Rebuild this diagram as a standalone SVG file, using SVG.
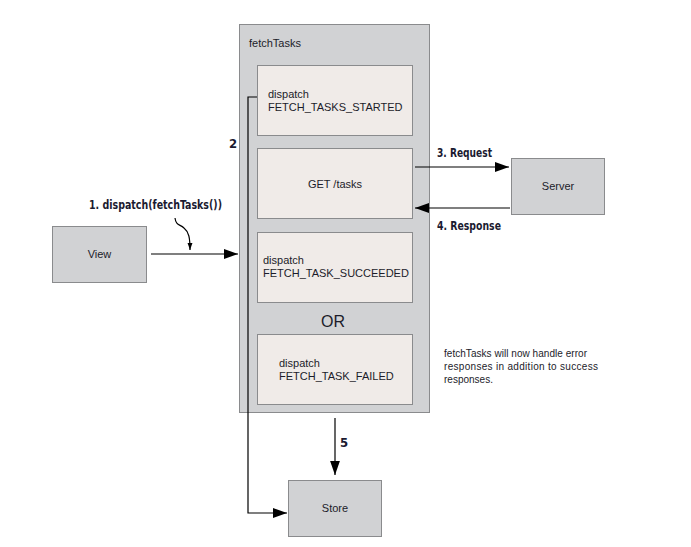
<svg xmlns="http://www.w3.org/2000/svg" width="691" height="547" viewBox="0 0 691 547">
  <style>
    .box { fill: #d1d2d4; stroke: #8a8b8d; stroke-width: 1; }
    .step { fill: #f0ebe8; stroke: #8a8b8d; stroke-width: 1; }
    .t { font-family: "Liberation Sans", Arial, sans-serif; font-size: 11px; fill: #1c1c2a; }
    .lbl { font-family: "DejaVu Sans Condensed", "Liberation Sans Narrow", sans-serif; font-weight: bold; font-size: 13px; fill: #1a1a30; }
    .ln { fill: none; stroke: #000; stroke-width: 1.2; }
  </style>
  <defs>
    <marker id="ah" viewBox="0 0 10 10" refX="10" refY="5" markerWidth="7" markerHeight="7" markerUnits="userSpaceOnUse" orient="auto">
      <path d="M0,1.5 L10,5 L0,8.5 Z" fill="#000"/>
    </marker>
    <marker id="ahl" viewBox="0 0 10 10" refX="10" refY="5" markerWidth="14" markerHeight="14" markerUnits="userSpaceOnUse" orient="auto">
      <path d="M0,1.5 L10,5 L0,8.5 Z" fill="#000"/>
    </marker>
  </defs>

  <!-- fetchTasks thunk container -->
  <g id="fetchTasks">
    <rect class="box" x="239.5" y="24.5" width="190" height="388"/>
    <text class="t" x="249" y="47">fetchTasks</text>
  </g>

  <g id="started">
    <rect class="step" x="257.5" y="65.5" width="155" height="70"/>
    <text class="t" x="268" y="98">dispatch</text>
    <text class="t" x="268" y="111">FETCH_TASKS_STARTED</text>
  </g>

  <g id="get">
    <rect class="step" x="257.5" y="148.5" width="155" height="70"/>
    <text class="t" x="335" y="188" text-anchor="middle">GET /tasks</text>
  </g>

  <g id="succeeded">
    <rect class="step" x="257.5" y="232.5" width="155" height="70"/>
    <text class="t" x="263" y="264">dispatch</text>
    <text class="t" x="263" y="277">FETCH_TASK_SUCCEEDED</text>
  </g>

  <text x="333" y="327" text-anchor="middle" font-family="Liberation Sans, Arial, sans-serif" font-size="16" fill="#1c1c2a">OR</text>

  <g id="failed">
    <rect class="step" x="257.5" y="334.5" width="155" height="70"/>
    <text class="t" x="279" y="367">dispatch</text>
    <text class="t" x="279" y="380">FETCH_TASK_FAILED</text>
  </g>

  <g id="view">
    <rect class="box" x="52.5" y="226.5" width="94" height="56"/>
    <text class="t" x="99.5" y="258" text-anchor="middle">View</text>
  </g>

  <g id="server">
    <rect class="box" x="511.5" y="158.5" width="93" height="56"/>
    <text class="t" x="558" y="190" text-anchor="middle">Server</text>
  </g>

  <g id="store">
    <rect class="box" x="288.5" y="480.5" width="93" height="56"/>
    <text class="t" x="335" y="512" text-anchor="middle">Store</text>
  </g>

  <!-- connectors -->
  <g id="connectors">
    <line class="ln" x1="151" y1="254" x2="238" y2="254" marker-end="url(#ahl)"/>
    <path class="ln" d="M175,218 C176,226 180,224 184,228 C189,232 190,238 190,250" marker-end="url(#ah)" stroke-width="1"/>
    <line class="ln" x1="415" y1="167" x2="509" y2="167" marker-end="url(#ahl)"/>
    <line class="ln" x1="510" y1="208" x2="415" y2="208" marker-end="url(#ahl)"/>
    <path class="ln" d="M257,97 H248 V513 H287" marker-end="url(#ahl)"/>
    <line class="ln" x1="335" y1="418" x2="335" y2="475" marker-end="url(#ahl)"/>
  </g>

  <!-- step labels -->
  <text class="lbl" x="89" y="209" textLength="133" lengthAdjust="spacingAndGlyphs">1. dispatch(fetchTasks())</text>
  <text class="lbl" x="229" y="148">2</text>
  <text class="lbl" x="437" y="157" textLength="55" lengthAdjust="spacingAndGlyphs">3. Request</text>
  <text class="lbl" x="437" y="230" textLength="64" lengthAdjust="spacingAndGlyphs">4. Response</text>
  <text class="lbl" x="340" y="447">5</text>

  <!-- note -->
  <g font-family="Liberation Sans, Arial, sans-serif" font-size="10" fill="#1c1c2a">
    <text x="444" y="357" textLength="143">fetchTasks will now handle error</text>
    <text x="444" y="370" textLength="154">responses in addition to success</text>
    <text x="444" y="383">responses.</text>
  </g>
</svg>
